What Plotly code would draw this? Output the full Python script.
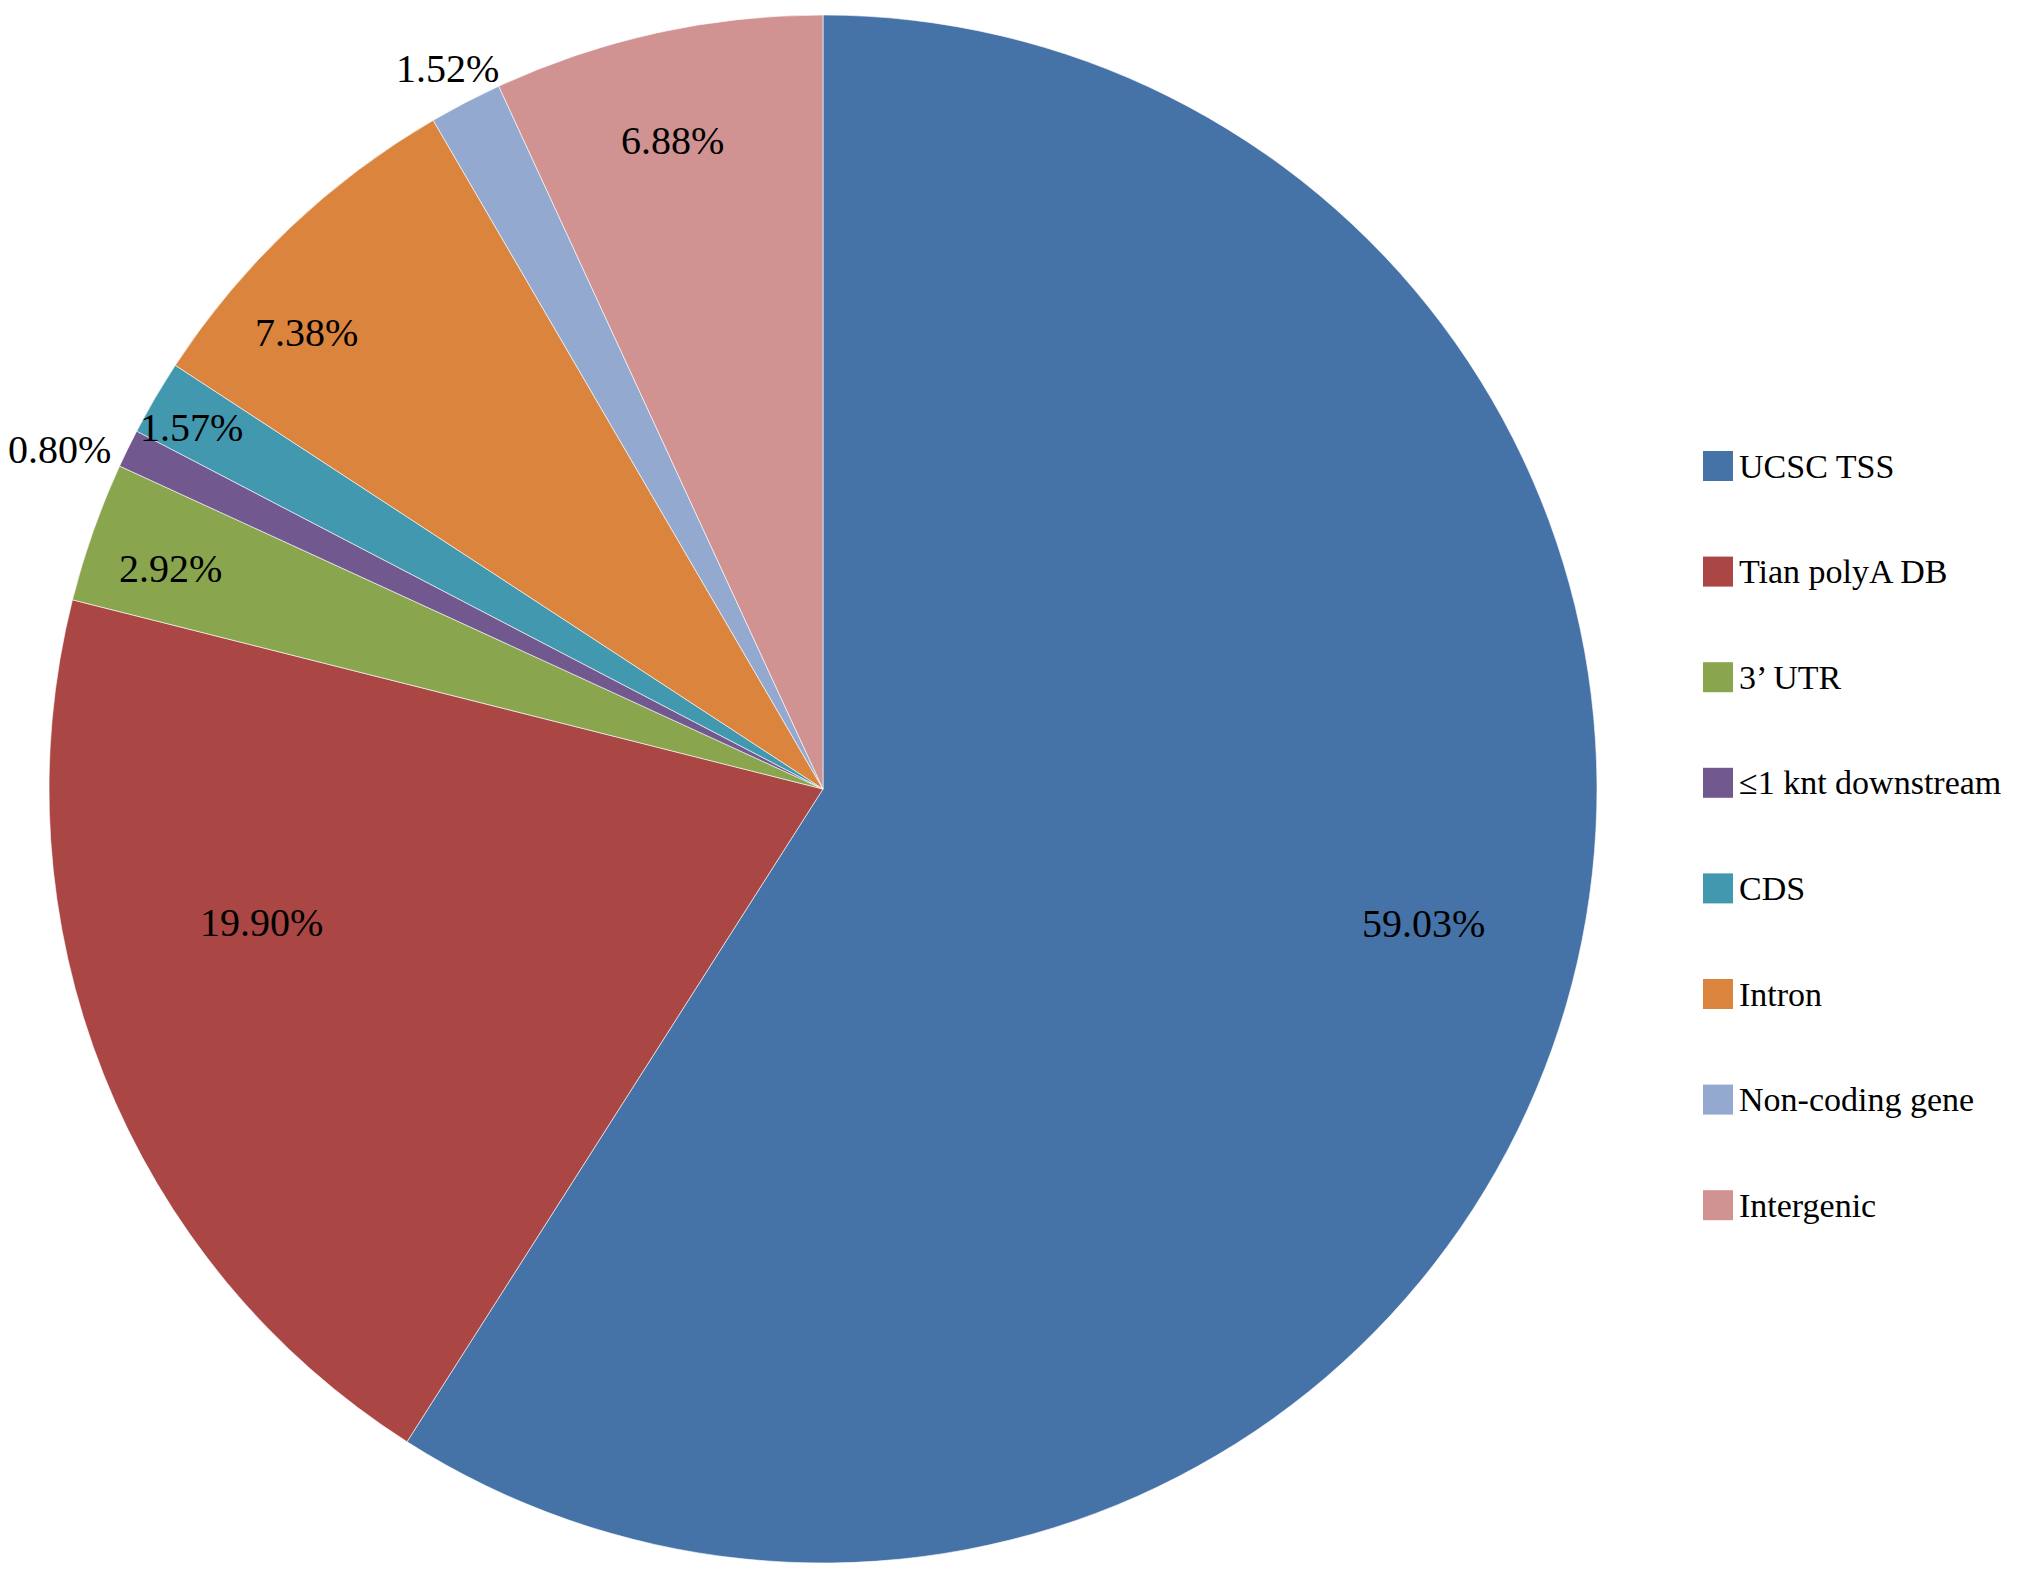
import math
import plotly.graph_objects as go

W, H = 2031, 1579

categories = ["UCSC TSS", "Tian polyA DB", "3\u2019 UTR", "\u22641 knt downstream",
              "CDS", "Intron", "Non-coding gene", "Intergenic"]
values = [59.03, 19.90, 2.92, 0.80, 1.57, 7.38, 1.52, 6.88]
colors = ["#4572A7", "#AA4643", "#89A54E", "#71588F",
          "#4198AF", "#DB843D", "#93A9CF", "#D19392"]

# label placement styling (radius fraction, angle nudge in degrees)
label_radius = [0.795, 0.746, 0.89, 1.08, 0.94, 0.89, 1.05, 0.86]
label_nudge = [-3.6, 8.3, -0.7, -2.1, -0.6, -5.0, 0.0, -0.7]

OFF = 8  # page body margin compensation
CX, CY, R = 823 - OFF, 789 - OFF, 774
FONT = "Liberation Serif, Times New Roman, serif"

fig = go.Figure()
fig.add_trace(go.Pie(
    labels=categories, values=values, sort=False, direction="clockwise",
    rotation=0, textinfo="none", hoverinfo="label+percent",
    marker=dict(colors=colors, line=dict(color="rgba(255,255,255,0.6)", width=1)),
    domain=dict(x=[(CX - R) / W, (CX + R) / W], y=[1 - (CY + R) / H, 1 - (CY - R) / H]),
    showlegend=False,
))

annotations = []
total = sum(values)
cum = 0.0
for v, f, nudge in zip(values, label_radius, label_nudge):
    mid = (cum + v / 2) / total * 360.0 + nudge
    cum += v
    a = math.radians(mid)
    px = CX + math.sin(a) * f * R
    py = CY - math.cos(a) * f * R
    annotations.append(dict(
        x=px / W, y=1 - py / H, xref="paper", yref="paper",
        text=f"{v / total * 100:.2f}%", showarrow=False,
        font=dict(family=FONT, size=40, color="black"),
        xanchor="center", yanchor="middle"))

# custom legend
shapes = []
LX, LY0, LSTEP, SW = 1703 - OFF, 466 - OFF, 105.6, 30
for i, (name, c) in enumerate(zip(categories, colors)):
    yc = LY0 + i * LSTEP
    shapes.append(dict(type="rect", xref="paper", yref="paper",
                       x0=LX / W, x1=(LX + SW) / W,
                       y0=1 - (yc + SW / 2) / H, y1=1 - (yc - SW / 2) / H,
                       fillcolor=c, line=dict(width=0)))
    annotations.append(dict(
        x=(LX + SW + 4) / W, y=1 - yc / H, xref="paper", yref="paper",
        text=name, showarrow=False, xanchor="left", yanchor="middle",
        font=dict(family=FONT, size=34, color="black")))

fig.update_layout(
    width=W, height=H, margin=dict(l=0, r=0, t=0, b=0),
    paper_bgcolor="white", plot_bgcolor="white",
    annotations=annotations, shapes=shapes, showlegend=False,
)

fig.write_html("out.html")
